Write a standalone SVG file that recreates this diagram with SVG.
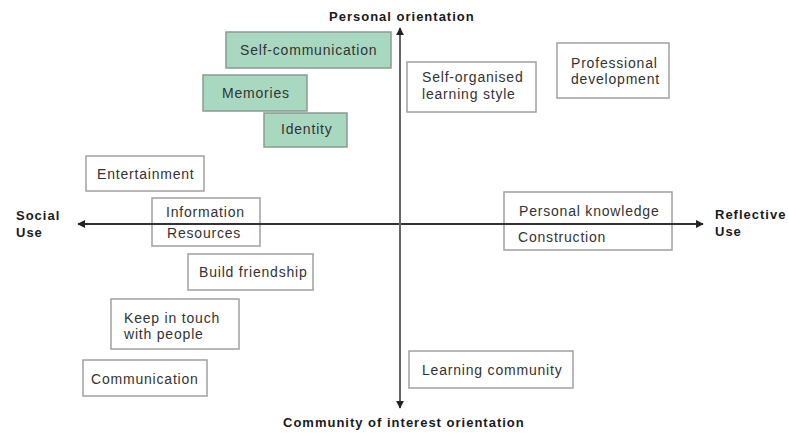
<svg xmlns="http://www.w3.org/2000/svg" width="789" height="433" viewBox="0 0 789 433">
<defs>
<style>
.box{fill:#ffffff;stroke:#a0a0a0;stroke-width:1.5}
.green{fill:#a9d8c1;stroke:#8a9a92;stroke-width:1.5}
.t{font-family:"Liberation Sans",Arial,sans-serif;font-size:14px;letter-spacing:0.8px;fill:#333}
.b{font-family:"Liberation Sans",Arial,sans-serif;font-size:13px;font-weight:bold;letter-spacing:1px;fill:#1a1a1a}
.ax{stroke:#333;stroke-width:2;fill:none}
.ay{stroke:#666;stroke-width:2;fill:none}
</style>
<marker id="ah" viewBox="0 0 10 10" refX="9" refY="5" markerWidth="4" markerHeight="4" orient="auto-start-reverse" markerUnits="strokeWidth">
<path d="M0,0 L10,5 L0,10 z" fill="#222"/>
</marker>
</defs>
<rect width="789" height="433" fill="#ffffff"/>

<g id="node-self-communication"><rect class="green" x="226" y="32" width="165" height="36"/><text class="t" x="240" y="55">Self-communication</text></g>
<g id="node-memories"><rect class="green" x="203" y="75" width="104" height="36"/><text class="t" x="222" y="98">Memories</text></g>
<g id="node-identity"><rect class="green" x="264" y="113" width="83" height="34"/><text class="t" x="281" y="134">Identity</text></g>
<g id="node-self-organised"><rect class="box" x="407" y="62" width="129" height="50"/><text class="t" x="422" y="82">Self-organised</text><text class="t" x="422" y="99">learning style</text></g>
<g id="node-professional"><rect class="box" x="557" y="43" width="112" height="55"/><text class="t" x="571" y="68">Professional</text><text class="t" x="571" y="84">development</text></g>
<g id="node-entertainment"><rect class="box" x="86" y="156" width="118" height="35"/><text class="t" x="97" y="179">Entertainment</text></g>
<g id="node-information"><rect class="box" x="152" y="198" width="108" height="48"/><text class="t" x="166" y="217">Information</text><text class="t" x="167" y="238">Resources</text></g>
<g id="node-build-friendship"><rect class="box" x="188" y="254" width="125" height="36"/><text class="t" x="199" y="277">Build friendship</text></g>
<g id="node-personal-knowledge"><rect class="box" x="504" y="192" width="168" height="58"/><text class="t" x="519" y="216">Personal knowledge</text><text class="t" x="518" y="242">Construction</text></g>
<g id="node-keep-in-touch"><rect class="box" x="111" y="299" width="128" height="50"/><text class="t" x="124" y="323">Keep in touch</text><text class="t" x="124" y="339">with people</text></g>
<g id="node-communication"><rect class="box" x="83" y="360" width="124" height="36"/><text class="t" x="91" y="384">Communication</text></g>
<g id="node-learning-community"><rect class="box" x="409" y="351" width="164" height="37"/><text class="t" x="422" y="375">Learning community</text></g>

<g id="connectors">
<line class="ax" x1="78" y1="224" x2="703" y2="224" marker-start="url(#ah)" marker-end="url(#ah)"/>
<line class="ay" x1="400" y1="28" x2="400" y2="408" marker-start="url(#ah)" marker-end="url(#ah)"/>
</g>

<g id="labels">
<text class="b" x="329" y="21">Personal orientation</text>
<text class="b" x="283" y="427">Community of interest orientation</text>
<text class="b" x="16" y="220">Social</text>
<text class="b" x="16" y="237">Use</text>
<text class="b" x="715" y="219">Reflective</text>
<text class="b" x="715" y="236">Use</text>
</g>
</svg>
